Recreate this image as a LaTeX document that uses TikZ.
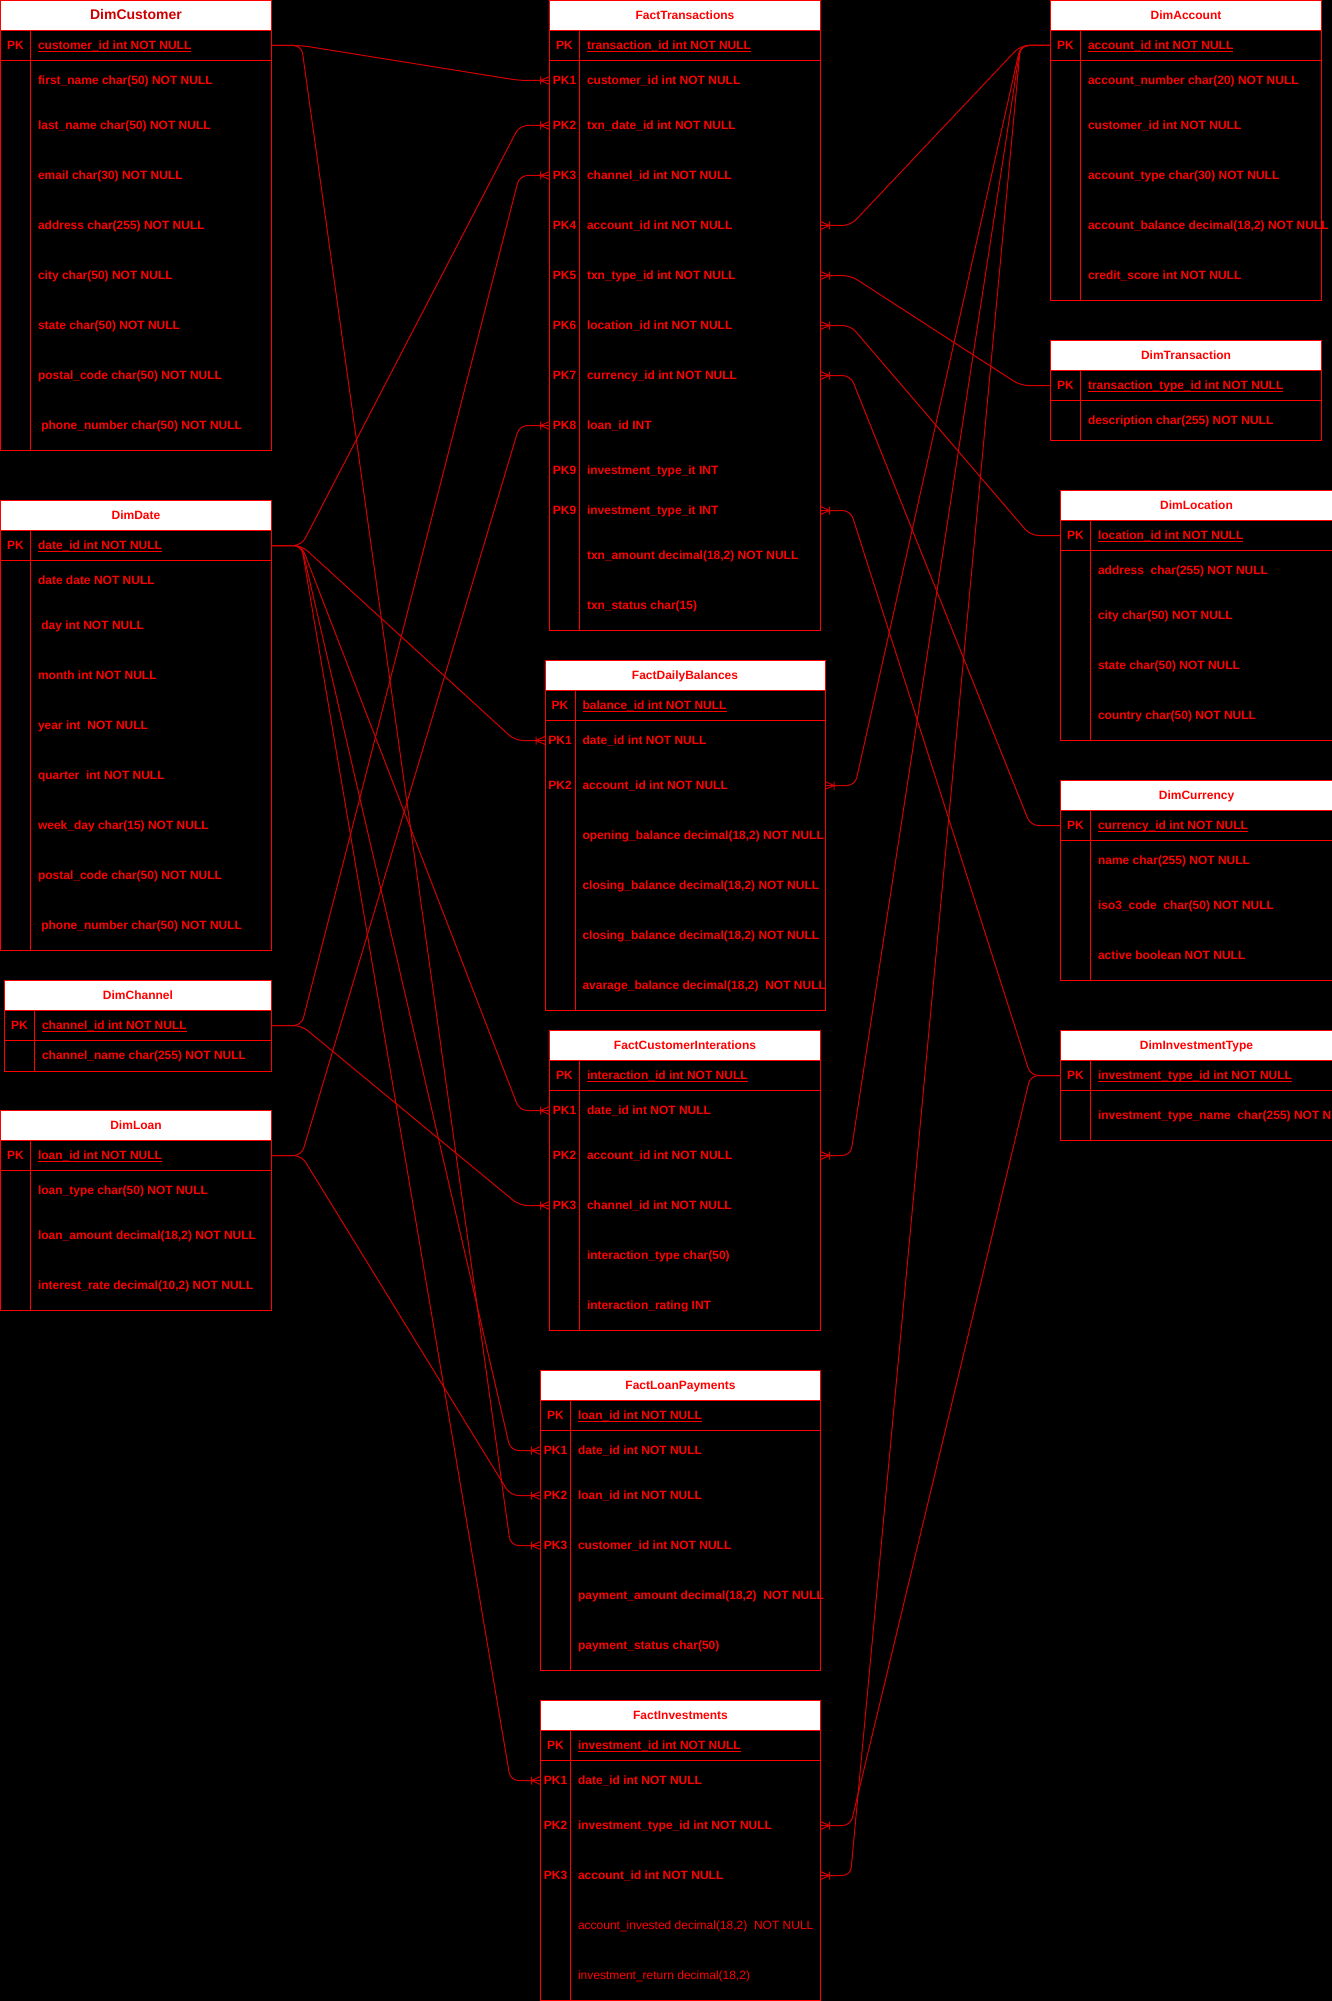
\documentclass[tikz,border=0pt]{standalone}
\usepackage{fontspec}
\setmainfont{Liberation Sans}
\usetikzlibrary{calc}

\definecolor{erred}{HTML}{FF0000}
\definecolor{linkred}{HTML}{D40000}
\definecolor{titlered}{HTML}{CC0000}

\tikzset{
  tbl/.style={draw=erred, fill=black, line width=1pt, inner sep=0pt, outer sep=0pt, anchor=north west},
  hdr/.style={draw=erred, fill=white, text=erred, line width=1pt, inner sep=0pt, outer sep=0pt,
              anchor=north west, minimum height=30pt, font=\fontsize{12}{14}\selectfont\bfseries,
              text height=8.6pt, text depth=0pt},
  tline/.style={draw=erred, line width=1pt},
  fld/.style={anchor=base west, inner sep=0pt, outer sep=0pt, text=erred, font=\fontsize{12}{14}\selectfont\bfseries},
  key/.style={anchor=base, inner sep=0pt, outer sep=0pt, text=erred, font=\fontsize{12}{14}\selectfont\bfseries},
  ulin/.style={draw=erred, line width=0.9pt},
  rel/.style={draw=linkred, line width=1pt, rounded corners=8pt},
  crowfoot/.style={draw=linkred, line width=1pt},
}

% table frame: name, x, y, width, height, title
\newcommand\ertable[6]{%
  \node[tbl, minimum width=#4pt, minimum height=#5pt] (#1) at (#2,#3) {};
  \node[hdr, minimum width=#4pt] (#1-h) at (#2,#3) {#6};
  \draw[tline] ($(#1.north west)+(0,60)$) -- ($(#1.north east)+(0,60)$);
  \draw[tline] ($(#1.north west)+(30,30)$) -- ($(#1.south west)+(30,0)$);
}

% primary key row: table, text
\newcommand\pkrow[2]{%
  \node[fld] (#1-pk) at ($(#1.north west)+(37.5,49.3)$) {#2};
  \draw[ulin] ([yshift=-1.6pt]#1-pk.base west) -- ([yshift=-1.6pt]#1-pk.base east);
  \node[key] (#1-pkkey) at ($(#1.north west)+(15,49.3)$) {PK};
  \coordinate (#1-pk-w) at ($(#1.north west)+(0,45)$);
  \coordinate (#1-pk-e) at ($(#1.north east)+(0,45)$);
}

% attribute row: table, row id, offset from top, key label, text
\newcommand\fld[5]{%
  \node[fld] (#1-#2) at ($(#1.north west)+(37.5,{#3+4.3})$) {#5};
  \node[key] (#1-#2-key) at ($(#1.north west)+(15,{#3+4.3})$) {#4};
  \coordinate (#1-#2-w) at ($(#1.north west)+(0,#3)$);
  \coordinate (#1-#2-e) at ($(#1.north east)+(0,#3)$);
}

% one-to-many relation, dimension on the left
\newcommand\linkR[2]{%
  \draw[rel] (#1) -- ++(30,0) -- ($(#2)+(-30,0)$) -- (#2);
  \draw[crowfoot] ($(#2)+(-9,0)$) -- ($(#2)+(0,-4)$)
                  ($(#2)+(-9,0)$) -- ($(#2)+(0,4)$)
                  ($(#2)+(-9,-4)$) -- ($(#2)+(-9,4)$);
}
% one-to-many relation, dimension on the right
\newcommand\linkL[2]{%
  \draw[rel] (#1) -- ++(-30,0) -- ($(#2)+(30,0)$) -- (#2);
  \draw[crowfoot] ($(#2)+(9,0)$) -- ($(#2)+(0,-4)$)
                  ($(#2)+(9,0)$) -- ($(#2)+(0,4)$)
                  ($(#2)+(9,-4)$) -- ($(#2)+(9,4)$);
}

\begin{document}
\begin{tikzpicture}[x=1pt, y=-1pt]
  \fill[black] (0,0) rectangle (1332,2001);
  \useasboundingbox (0,0) rectangle (1332,2001);

  % ---------------- DimCustomer
  \ertable{cust}{0.5}{0.5}{271}{450}{{\fontsize{14}{16}\selectfont\color{titlered}DimCustomer}}
  \pkrow{cust}{customer\_id int NOT NULL\ }
  \fld{cust}{r1}{80}{}{first\_name char(50) NOT NULL}
  \fld{cust}{r2}{125}{}{last\_name char(50) NOT NULL}
  \fld{cust}{r3}{175}{}{email char(30) NOT NULL}
  \fld{cust}{r4}{225}{}{address char(255) NOT NULL}
  \fld{cust}{r5}{275}{}{city char(50) NOT NULL}
  \fld{cust}{r6}{325}{}{state char(50) NOT NULL}
  \fld{cust}{r7}{375}{}{postal\_code char(50) NOT NULL}
  \fld{cust}{r8}{425}{}{\ phone\_number char(50) NOT NULL}

  % ---------------- DimDate
  \ertable{date}{0.5}{500.5}{271}{450}{DimDate}
  \pkrow{date}{date\_id int NOT NULL\ }
  \fld{date}{r1}{80}{}{date date NOT NULL}
  \fld{date}{r2}{125}{}{\ day int NOT NULL}
  \fld{date}{r3}{175}{}{month int NOT NULL}
  \fld{date}{r4}{225}{}{year int\ \ NOT NULL}
  \fld{date}{r5}{275}{}{quarter\ \ int NOT NULL}
  \fld{date}{r6}{325}{}{week\_day char(15) NOT NULL}
  \fld{date}{r7}{375}{}{postal\_code char(50) NOT NULL}
  \fld{date}{r8}{425}{}{\ phone\_number char(50) NOT NULL}

  % ---------------- DimChannel
  \ertable{chan}{4.5}{980.5}{267}{90.5}{DimChannel}
  \pkrow{chan}{channel\_id int NOT NULL}
  \fld{chan}{r1}{75}{}{channel\_name char(255) NOT NULL}

  % ---------------- DimLoan
  \ertable{loan}{0.5}{1110.5}{271}{200}{DimLoan}
  \pkrow{loan}{loan\_id int NOT NULL\ }
  \fld{loan}{r1}{80}{}{loan\_type char(50) NOT NULL}
  \fld{loan}{r2}{125}{}{loan\_amount decimal(18,2) NOT NULL}
  \fld{loan}{r3}{175}{}{interest\_rate decimal(10,2) NOT NULL}

  % ---------------- FactTransactions
  \ertable{ft}{549.5}{0.5}{271}{630}{FactTransactions}
  \pkrow{ft}{transaction\_id int NOT NULL\ }
  \fld{ft}{k1}{80}{PK1}{customer\_id int NOT NULL}
  \fld{ft}{k2}{125}{PK2}{txn\_date\_id int NOT NULL}
  \fld{ft}{k3}{175}{PK3}{channel\_id int NOT NULL}
  \fld{ft}{k4}{225}{PK4}{account\_id int NOT NULL}
  \fld{ft}{k5}{275}{PK5}{txn\_type\_id int NOT NULL}
  \fld{ft}{k6}{325}{PK6}{location\_id int NOT NULL}
  \fld{ft}{k7}{375}{PK7}{currency\_id int NOT NULL}
  \fld{ft}{k8}{425}{PK8}{loan\_id INT}
  \fld{ft}{k9}{470}{PK9}{investment\_type\_it INT}
  \fld{ft}{k10}{510}{PK9}{investment\_type\_it INT}
  \fld{ft}{r1}{555}{}{txn\_amount decimal(18,2) NOT NULL}
  \fld{ft}{r2}{605}{}{txn\_status char(15)}

  % ---------------- FactDailyBalances
  \ertable{fdb}{545}{660.5}{280}{350}{FactDailyBalances}
  \pkrow{fdb}{balance\_id int NOT NULL\ }
  \fld{fdb}{k1}{80}{PK1}{date\_id int NOT NULL}
  \fld{fdb}{k2}{125}{PK2}{account\_id int NOT NULL}
  \fld{fdb}{r1}{175}{}{opening\_balance decimal(18,2) NOT NULL}
  \fld{fdb}{r2}{225}{}{closing\_balance decimal(18,2) NOT NULL}
  \fld{fdb}{r3}{275}{}{closing\_balance decimal(18,2) NOT NULL}
  \fld{fdb}{r4}{325}{}{avarage\_balance decimal(18,2)\ \ NOT NULL}

  % ---------------- FactCustomerInterations
  \ertable{fci}{549.5}{1030.5}{271}{300}{FactCustomerInterations}
  \pkrow{fci}{interaction\_id int NOT NULL\ }
  \fld{fci}{k1}{80}{PK1}{date\_id int NOT NULL}
  \fld{fci}{k2}{125}{PK2}{account\_id int NOT NULL}
  \fld{fci}{k3}{175}{PK3}{channel\_id int NOT NULL}
  \fld{fci}{r1}{225}{}{interaction\_type char(50)}
  \fld{fci}{r2}{275}{}{interaction\_rating INT}

  % ---------------- FactLoanPayments
  \ertable{flp}{540.5}{1370.5}{280}{300}{FactLoanPayments}
  \pkrow{flp}{loan\_id int NOT NULL\ }
  \fld{flp}{k1}{80}{PK1}{date\_id int NOT NULL}
  \fld{flp}{k2}{125}{PK2}{loan\_id int NOT NULL}
  \fld{flp}{k3}{175}{PK3}{customer\_id int NOT NULL}
  \fld{flp}{r1}{225}{}{payment\_amount decimal(18,2)\ \ NOT NULL}
  \fld{flp}{r2}{275}{}{payment\_status char(50)}

  % ---------------- FactInvestments
  \ertable{fi}{540.5}{1700.5}{280}{300}{FactInvestments}
  \pkrow{fi}{investment\_id int NOT NULL\ }
  \fld{fi}{k1}{80}{PK1}{date\_id int NOT NULL}
  \fld{fi}{k2}{125}{PK2}{investment\_type\_id int NOT NULL}
  \fld{fi}{k3}{175}{PK3}{account\_id int NOT NULL}
  \fld{fi}{r1}{225}{}{\mdseries account\_invested decimal(18,2)\ \ NOT NULL}
  \fld{fi}{r2}{275}{}{\mdseries investment\_return decimal(18,2)}

  % ---------------- DimAccount
  \ertable{acct}{1050.5}{0.5}{271}{300}{DimAccount}
  \pkrow{acct}{account\_id int NOT NULL\ }
  \fld{acct}{r1}{80}{}{account\_number char(20) NOT NULL}
  \fld{acct}{r2}{125}{}{customer\_id int NOT NULL}
  \fld{acct}{r3}{175}{}{account\_type char(30) NOT NULL}
  \fld{acct}{r4}{225}{}{account\_balance decimal(18,2) NOT NULL}
  \fld{acct}{r5}{275}{}{credit\_score int NOT NULL}

  % ---------------- DimTransaction
  \ertable{trn}{1050.5}{340.5}{271}{100}{DimTransaction}
  \pkrow{trn}{transaction\_type\_id int NOT NULL\ }
  \fld{trn}{r1}{80}{}{description char(255) NOT NULL}

  % ---------------- DimLocation
  \ertable{loc}{1060.5}{490.5}{272}{250}{DimLocation}
  \pkrow{loc}{location\_id int NOT NULL\ }
  \fld{loc}{r1}{80}{}{address\ \ char(255) NOT NULL}
  \fld{loc}{r2}{125}{}{city char(50) NOT NULL}
  \fld{loc}{r3}{175}{}{state char(50) NOT NULL}
  \fld{loc}{r4}{225}{}{country char(50) NOT NULL}

  % ---------------- DimCurrency
  \ertable{cur}{1060.5}{780.5}{272}{200}{DimCurrency}
  \pkrow{cur}{currency\_id int NOT NULL\ }
  \fld{cur}{r1}{80}{}{name char(255) NOT NULL}
  \fld{cur}{r2}{125}{}{iso3\_code\ \ char(50) NOT NULL}
  \fld{cur}{r3}{175}{}{active boolean NOT NULL}

  % ---------------- DimInvestmentType
  \ertable{invt}{1060.5}{1030.5}{272}{110}{DimInvestmentType}
  \pkrow{invt}{investment\_type\_id int NOT NULL\ }
  \fld{invt}{r1}{85}{}{investment\_type\_name\ \ char(255) NOT NULL}

  % ---------------- relations from the left-hand dimensions
  \linkR{cust-pk-e}{ft-k1-w}
  \linkR{cust-pk-e}{flp-k3-w}
  \linkR{date-pk-e}{ft-k2-w}
  \linkR{date-pk-e}{fdb-k1-w}
  \linkR{date-pk-e}{fci-k1-w}
  \linkR{date-pk-e}{flp-k1-w}
  \linkR{date-pk-e}{fi-k1-w}
  \linkR{chan-pk-e}{ft-k3-w}
  \linkR{chan-pk-e}{fci-k3-w}
  \linkR{loan-pk-e}{ft-k8-w}
  \linkR{loan-pk-e}{flp-k2-w}

  % ---------------- relations from the right-hand dimensions
  \linkL{acct-pk-w}{ft-k4-e}
  \linkL{acct-pk-w}{fdb-k2-e}
  \linkL{acct-pk-w}{fci-k2-e}
  \linkL{acct-pk-w}{fi-k3-e}
  \linkL{trn-pk-w}{ft-k5-e}
  \linkL{loc-pk-w}{ft-k6-e}
  \linkL{cur-pk-w}{ft-k7-e}
  \linkL{invt-pk-w}{ft-k10-e}
  \linkL{invt-pk-w}{fi-k2-e}
\end{tikzpicture}
\end{document}
